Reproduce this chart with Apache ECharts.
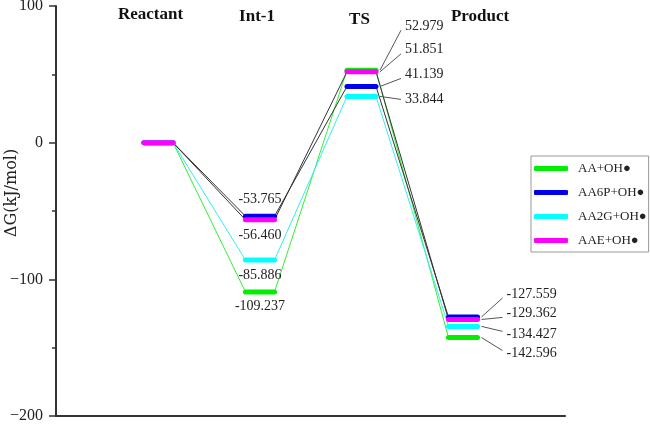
<!DOCTYPE html>
<html>
<head>
<meta charset="utf-8">
<script src="https://cdn.jsdelivr.net/npm/echarts@6/dist/echarts.min.js"></script>
<style>
  html, body { margin: 0; padding: 0; background: #fff; }
  #chart { width: 650px; height: 425px; }
</style>
</head>
<body>
<div id="chart"></div>
<script>
// data
const states = ['Reactant', 'Int-1', 'TS', 'Product'];
const seriesNames = ['AA+OH●', 'AA6P+OH●', 'AA2G+OH●', 'AAE+OH●'];
const aa = [0, -109.237, 52.979, -142.596];
const aa6p = [0, -53.765, 41.139, -127.559];
const aa2g = [0, -85.886, 33.844, -134.427];
const aae = [0, -56.460, 51.851, -129.362];
const yTicks = [-200, -100, 0, 100];

// look
const colors = ['#00ee00', '#0000ee', '#00ffff', '#ff00ff'];
const linkColors = ['#33ee33', '#333333', '#33eeee', '#333333'];
const HW = 0.143; // half width of a level, in state units
// px offsets for the value labels (Int-1 centred, TS/Product to the right with a leader)
const labelOffsets = [
  [null, [0, 14], [29, -44], [29, 16]],
  [null, [0, -17], [29, -12], [29, -23]],
  [null, [0, 15], [29, 3], [29, 8]],
  [null, [0, 15], [29, -22], [29, -6]]
];
const titleOffsets = [[-8, 9], [-3, 11], [-2, 14], [17, 11]];
const serif = '"Liberation Serif", "Times New Roman", serif';

const allValues = [aa, aa6p, aa2g, aae];

function levelItem(k) {
  return function (params, api) {
    const i = api.value(0), v = api.value(1);
    const a = api.coord([i - HW, v]);
    const b = api.coord([i + HW, v]);
    const children = [{
      type: 'line',
      shape: { x1: a[0], y1: a[1], x2: b[0], y2: b[1] },
      style: { stroke: colors[k], lineWidth: 5, lineCap: 'round' }
    }];
    const off = labelOffsets[k][i];
    if (off) {
      const txt = v.toFixed(3);
      if (i === 1) {
        children.push({
          type: 'text', x: (a[0] + b[0]) / 2, y: a[1] + off[1],
          style: { text: txt, font: '14px ' + serif, fill: '#222', align: 'center', verticalAlign: 'middle' }
        });
      } else {
        const tx = b[0] + off[0], ty = b[1] + off[1];
        const ey = off[1] < -5 ? ty + 4 : (off[1] > 5 ? ty - 3 : ty);
        children.push({
          type: 'line',
          shape: { x1: b[0] + 4, y1: b[1], x2: tx - 4, y2: ey },
          style: { stroke: '#555', lineWidth: 1 }
        });
        children.push({
          type: 'text', x: tx, y: ty,
          style: { text: txt, font: '14px ' + serif, fill: '#222', align: 'left', verticalAlign: 'middle' }
        });
      }
    }
    return { type: 'group', children: children };
  };
}

const series = [];
allValues.forEach((vals, k) => {
  series.push({
    name: 'link' + k,
    type: 'line',
    silent: true,
    symbol: 'none',
    z: 1,
    lineStyle: { width: 1, color: linkColors[k] },
    data: vals.flatMap((v, i) => [[i - HW, v], [i + HW, v]])
  });
});
allValues.forEach((vals, k) => {
  series.push({
    name: seriesNames[k],
    type: 'custom',
    z: 3 + k,
    itemStyle: { color: colors[k] },
    encode: { x: 0, y: 1 },
    renderItem: levelItem(k),
    data: vals.map((v, i) => [i, v])
  });
});
series.push({
  name: 'titles',
  type: 'custom',
  silent: true,
  encode: { x: 0, y: 1 },
  renderItem: function (params, api) {
    const i = api.value(0);
    const p = api.coord([i, 100]);
    return {
      type: 'text', x: p[0] + titleOffsets[i][0], y: p[1] + titleOffsets[i][1],
      style: { text: states[i], font: 'bold 17px ' + serif, fill: '#111', align: 'center', verticalAlign: 'middle' }
    };
  },
  data: states.map((s, i) => [i, 100])
});

const chart = echarts.init(document.getElementById('chart'));
chart.setOption({
  animation: false,
  grid: { left: 56, right: 85, top: 6, bottom: 9, containLabel: false, outerBoundsMode: 'none' },
  xAxis: {
    type: 'value', min: -1.01, max: 4.005,
    axisLine: { show: true, onZero: false, lineStyle: { color: '#333', width: 2 } },
    axisTick: { show: false }, axisLabel: { show: false }, splitLine: { show: false }
  },
  yAxis: {
    type: 'value', min: yTicks[0], max: yTicks[yTicks.length - 1], interval: 100,
    name: 'ΔG(kJ/mol)', nameLocation: 'middle', nameGap: 36, nameMoveOverlap: false,
    nameTextStyle: { fontFamily: '"DejaVu Serif", serif', fontSize: 16, color: '#222', padding: [0, 0, 0, 36] },
    axisLine: { show: true, onZero: false, lineStyle: { color: '#333', width: 2 } },
    axisTick: { show: true, length: 7, lineStyle: { color: '#333', width: 1.5 } },
    minorTick: { show: true, splitNumber: 2, length: 4, lineStyle: { color: '#333', width: 1.5 } },
    axisLabel: {
      fontFamily: serif, fontSize: 16, color: '#222', margin: 13,
      formatter: v => (v < 0 ? '\u2212' + Math.abs(v) : String(v))
    },
    splitLine: { show: false }
  },
  legend: {
    data: seriesNames,
    orient: 'vertical', left: 531, top: 156,
    icon: 'roundRect', itemWidth: 34, itemHeight: 5, itemGap: 11,
    padding: [6, 2, 5, 3],
    borderColor: '#999', borderWidth: 1,
    textStyle: { fontFamily: serif, fontSize: 13, color: '#222', padding: [0, 0, 0, 5] }
  },
  series: series
});
</script>
</body>
</html>
